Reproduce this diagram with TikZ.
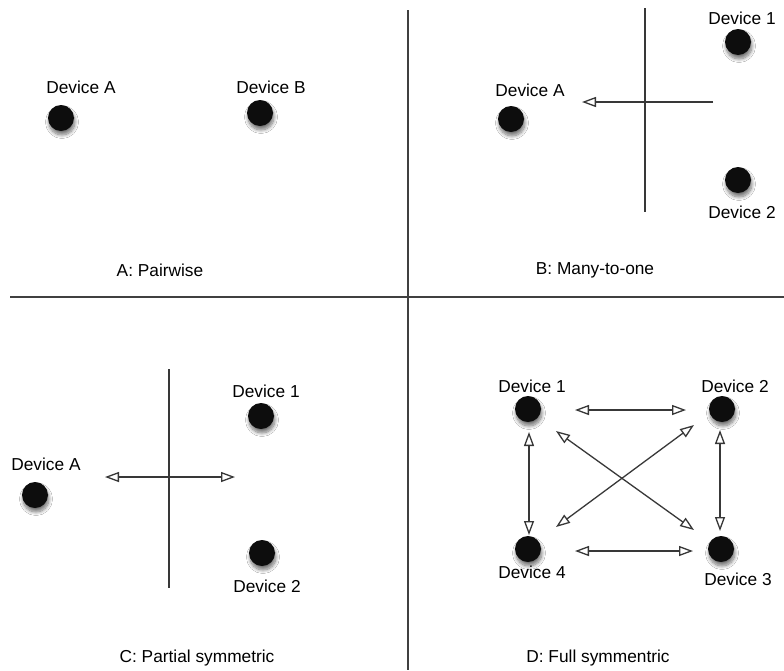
\documentclass[tikz,border=0pt]{standalone}
\usepackage{fontspec}
\setmainfont{Liberation Sans}
\usetikzlibrary{arrows.meta,shadows.blur}
\begin{document}
\begin{tikzpicture}[x=1pt,y=-1pt,
  dev/.style={circle,fill=black!95,inner sep=0pt,minimum size=26pt,
    blur shadow={shadow xshift=1pt,shadow yshift=-4pt,shadow blur radius=3.5pt,shadow blur steps=8,shadow opacity=55}},
  lbl/.style={font=\fontsize{17.3}{19}\selectfont,inner sep=0pt},
  divider/.style={draw=black!75,line width=1.4pt},
  cross/.style={draw=black!78,line width=1.4pt},
  conn/.style={draw=black!78,line width=1.3pt,-{Triangle[open,length=14pt,width=10pt,line width=1.3pt]}},
  conn2/.style={draw=black!78,line width=1.3pt,{Triangle[open,length=14pt,width=10pt,line width=1.3pt]}-{Triangle[open,length=14pt,width=10pt,line width=1.3pt]}}]
\useasboundingbox[fill=white] (0,0) rectangle (784,670);
% dividers
\coordinate (hl) at (10,297); \coordinate (hr) at (784,297);
\coordinate (vt) at (408,10); \coordinate (vb) at (408,670);
\draw[divider] (hl) -- (hr);
\draw[divider] (vt) -- (vb);
% Panel A
\node[dev] (aA) at (61,118) {};
\node[dev] (aB) at (260,113) {};
\node[lbl] (aAl) at (81,87) {Device A};
\node[lbl] (aBl) at (271,87) {Device B};
\node[lbl] (capA) at (160,270) {A: Pairwise};
% Panel B
\node[dev] (bA) at (511,119) {};
\node[dev] (b1) at (738,42) {};
\node[dev] (b2) at (738,180) {};
\node[lbl] (bAl) at (530,90) {Device A};
\node[lbl] (b1l) at (742,18) {Device 1};
\node[lbl] (b2l) at (742,212) {Device 2};
\node[lbl] (capB) at (595,270) {B: Many-to-one};
\coordinate (bvt) at (645,8); \coordinate (bvb) at (645,212);
\coordinate (bhs) at (713,102); \coordinate (bhe) at (582,102);
\draw[cross] (bvt) -- (bvb);
\draw[conn] (bhs) -- (bhe);
% Panel C
\node[dev] (cA) at (35,495) {};
\node[dev] (c1) at (261,416) {};
\node[dev] (c2) at (262,553) {};
\node[lbl] (cAl) at (46,464) {Device A};
\node[lbl] (c1l) at (266,391) {Device 1};
\node[lbl] (c2l) at (267,586) {Device 2};
\node[lbl] (capC) at (197,658) {C: Partial symmetric};
\coordinate (cvt) at (169,369); \coordinate (cvb) at (169,588);
\coordinate (chs) at (105,477); \coordinate (che) at (235,477);
\draw[cross] (cvt) -- (cvb);
\draw[conn2] (chs) -- (che);
% Panel D
\node[dev] (d1) at (528,409) {};
\node[dev] (d2) at (722,409) {};
\node[dev] (d3) at (721,549) {};
\node[dev] (d4) at (528,549) {};
\node[lbl] (d1l) at (532,386) {Device 1};
\node[lbl] (d2l) at (735,386) {Device 2};
\node[lbl] (d3l) at (738,579) {Device 3};
\node[lbl] (d4l) at (532,572) {Device 4};
\node[lbl] (capD) at (598,658) {D: Full symmentric};
\coordinate (t1) at (575,410); \coordinate (t2) at (686,410);
\coordinate (u1) at (575,551); \coordinate (u2) at (693,551);
\coordinate (l1) at (529,432); \coordinate (l2) at (529,535);
\coordinate (r1) at (720,430); \coordinate (r2) at (720,531);
\coordinate (x1) at (556,431); \coordinate (x2) at (694,530);
\coordinate (y1) at (694,425); \coordinate (y2) at (556,527);
\draw[conn2] (t1) -- (t2);
\draw[conn2] (u1) -- (u2);
\draw[conn2] (l1) -- (l2);
\draw[conn2] (r1) -- (r2);
\draw[conn2] (x1) -- (x2);
\draw[conn2] (y1) -- (y2);
\end{tikzpicture}
\end{document}
